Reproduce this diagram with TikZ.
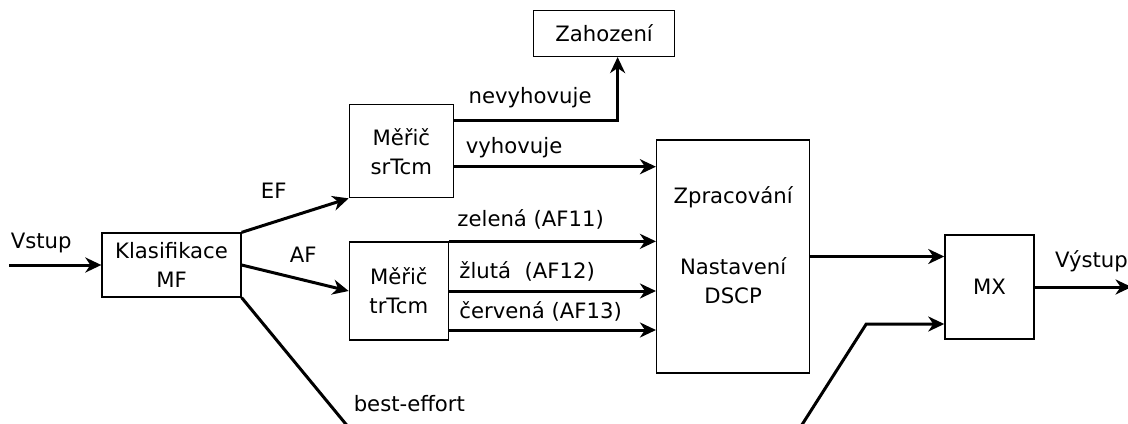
\documentclass[tikz,border=0pt]{standalone}
\usepackage{fontspec}
\setmainfont{DejaVu Sans}
\usetikzlibrary{arrows.meta,positioning,calc}

\begin{document}
\begin{tikzpicture}[
    font=\fontsize{10.6}{14.5}\selectfont,
    block/.style={rectangle, draw, line width=0.65pt, align=center, inner sep=2pt},
    flow/.style={-{Stealth[length=8pt, width=7.5pt, inset=2.5pt]}, line width=1.5pt},
    wire/.style={line width=1.5pt},
    lbl/.style={inner sep=2pt}
]

\useasboundingbox (0,0) rectangle (564pt,-211.5pt);

% Classifier
\node[block, minimum width=69.5pt, minimum height=32pt] (klas) at (85.75pt,-132.5pt) {Klasifikace\\MF};

% Meters
\node[block, minimum width=49.5pt, minimum height=49pt, right=53.5pt of klas, yshift=-13pt] (trtcm) {Měřič\\trTcm};
\node[block, minimum width=52pt, minimum height=46.5pt, above=21.5pt of trtcm, xshift=1.25pt] (srtcm) {Měřič\\srTcm};

% Drop
\node[block, minimum width=70.5pt, minimum height=23pt, above right=23.5pt and 39.5pt of srtcm] (zahoz) {Zahození};

% Processing
\node[block, minimum width=76.5pt, minimum height=116.5pt, right=103.5pt of trtcm, yshift=17.25pt,
    label={[align=center, yshift=5.5pt]center:{Zpracování\\[21pt]Nastavení\\DSCP}}] (zprac) {};

% Multiplexer
\node[block, minimum width=44.5pt, minimum height=52pt, right=67pt of zprac, yshift=-15.25pt] (mx) {MX};

% Free ends
\coordinate[left=46pt of klas] (vin);
\coordinate[right=48.5pt of mx] (vout);
\coordinate (be1) at (173.3pt,-212.5pt);
\coordinate (be2) at (400.9pt,-212.5pt);
\coordinate (bend) at ($(mx.west)+(-39pt,-18.5pt)$);

% Arrows
\draw[flow] (vin) -- node[lbl, pos=0, above right=3.5pt and -2pt] (lvstup) {Vstup} (klas);
\draw[flow] (klas.north east) -- node[lbl, pos=0.3, above=9.2pt] (lef) {EF} (srtcm.south west);
\draw[flow] (klas.east) -- node[lbl, pos=0.575, above=6.2pt] (laf) {AF} (trtcm.west);
\draw[wire] (klas.south east) -- node[lbl, pos=0.833, right=9.6pt] (lbe) {best-effort} (be1);
\draw[flow] ([yshift=15.25pt]srtcm.east) -| node[lbl, pos=0, above right=3.75pt and 4.6pt] (lnev) {nevyhovuje} ([xshift=6.75pt]zahoz.south);
\draw[flow] ([yshift=-7.75pt]srtcm.east) -- node[lbl, pos=0, above right=1.75pt and 3.2pt] (lvyh) {vyhovuje} ([yshift=-7.75pt]srtcm.east -| zprac.west);
\draw[flow] (trtcm.north east) -- node[lbl, pos=0, above right=3.3pt and 1.5pt] (lzel) {zelená (AF11)} (trtcm.north east -| zprac.west);
\draw[flow] (trtcm.east) -- node[lbl, pos=0, above right=2.3pt and 2.5pt] (lzlu) {žlutá\ \ (AF12)} (trtcm.east -| zprac.west);
\draw[flow] ([yshift=-19.5pt]trtcm.east) -- node[lbl, pos=0, above right=1.8pt and 2.5pt] (lcer) {červená (AF13)} ([yshift=-19.5pt]trtcm.east -| zprac.west);
\draw[flow] (zprac.east) -- (zprac.east -| mx.west);
\draw[flow] (be2) -- (bend) -- (bend -| mx.west);
\draw[flow] (mx) -- node[lbl, pos=0, above right=4.85pt and 7.5pt] (lvys) {Výstup} (vout);

\end{tikzpicture}
\end{document}
